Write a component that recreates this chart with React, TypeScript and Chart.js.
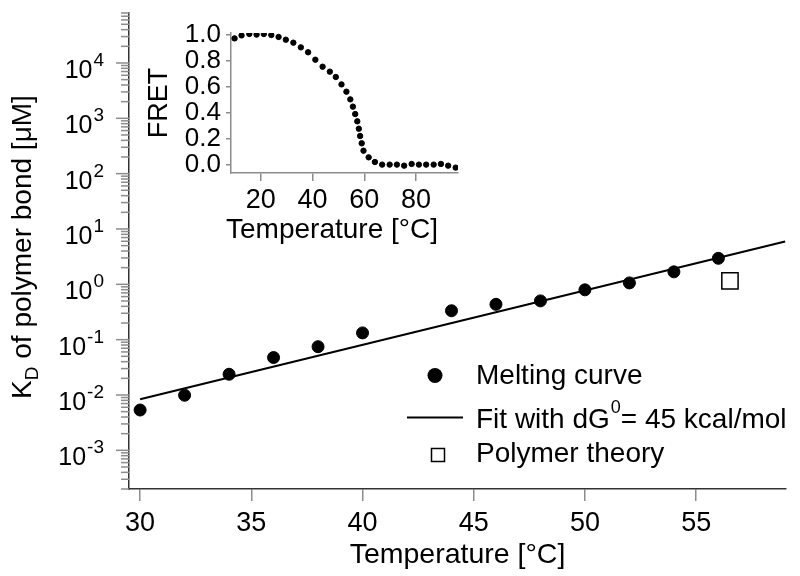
import React, { useEffect, useRef } from "react";
import { Chart, registerables } from "chart.js";

Chart.register(...registerables);

const FONT = "'Liberation Sans', Arial, sans-serif";

// Main chart data
const meltT = [30, 32, 34, 36, 38, 40, 44, 46, 48, 50, 52, 54, 56];
const meltKd = [0.00535, 0.00989, 0.0237, 0.0475, 0.0746, 0.1325, 0.333, 0.435, 0.502, 0.795, 1.06, 1.68, 2.95];
const fitT = [30, 59];
const fitKd = [0.0084, 5.93];
const polyT = [56.52];
const polyKd = [1.15];
const xTicks = [30, 35, 40, 45, 50, 55];

// Inset data
const insetT = [9.9, 12.6, 15.6, 18.4, 21.2, 24.1, 26.9, 29.7, 32.6, 35.5, 38.3, 41.1, 43.9, 46.7, 49.0, 51.2, 53.1, 54.6, 55.6, 56.5, 57.3, 57.9, 58.4, 59.0, 59.7, 61.7, 64.1, 66.9, 69.8, 72.6, 75.4, 78.3, 81.1, 83.9, 86.8, 89.6, 92.4, 95.3];
const insetF = [0.974, 0.997, 1.008, 1.003, 1.008, 1.0, 0.985, 0.964, 0.941, 0.905, 0.867, 0.81, 0.756, 0.718, 0.677, 0.62, 0.564, 0.505, 0.449, 0.392, 0.336, 0.279, 0.223, 0.167, 0.11, 0.059, 0.023, 0.003, 0.003, 0.003, -0.005, 0.008, 0.003, 0.003, 0.003, 0.008, -0.005, -0.02];
const insetXTicks = [20, 40, 60, 80];
const insetYTicks = [0, 0.2, 0.4, 0.6, 0.8, 1.0];

const legendLabels = ["Melting curve", "Fit with dG", "Polymer theory"];
const insetXTitle = "Temperature [\u00b0C]";

const mainDecor = {
  id: "mainDecor",
  afterDraw(chart: any) {
    const { ctx, chartArea, scales } = chart;
    const ys = scales.y;
    ctx.save();
    // y ticks and labels
    ys.ticks.forEach((t: any) => {
      const y = ys.getPixelForValue(t.value);
      const lg = Math.log10(t.value);
      const major = Math.abs(lg - Math.round(lg)) < 1e-6;
      const len = major ? 13 : 8;
      ctx.strokeStyle = "#8c8c8c";
      ctx.lineWidth = 1.5;
      ctx.beginPath();
      ctx.moveTo(chartArea.left - len, y);
      ctx.lineTo(chartArea.left, y);
      ctx.stroke();
      if (major) {
        const base = "10";
        const exp = String(Math.round(lg));
        ctx.fillStyle = "#000";
        ctx.textBaseline = "alphabetic";
        ctx.textAlign = "left";
        ctx.font = `25px ${FONT}`;
        const wb = ctx.measureText(base).width;
        ctx.font = `19px ${FONT}`;
        const we = ctx.measureText(exp).width;
        const right = 104;
        const x0 = right - we - wb - 1;
        ctx.font = `25px ${FONT}`;
        ctx.fillText(base, x0, y + 15);
        ctx.font = `19px ${FONT}`;
        ctx.fillText(exp, x0 + wb + 1, y + 3);
      }
    });

    // y title with subscript
    ctx.save();
    ctx.translate(31, 247);
    ctx.rotate(-Math.PI / 2);
    ctx.fillStyle = "#000";
    ctx.textBaseline = "alphabetic";
    ctx.textAlign = "left";
    ctx.font = `28px ${FONT}`;
    const wK = ctx.measureText("K").width;
    const rest = " of polymer bond [\u03bcM]";
    const wR = ctx.measureText(rest).width;
    ctx.font = `19px ${FONT}`;
    const wD = ctx.measureText("D").width;
    const total = wK + wD + wR;
    let x = -total / 2;
    ctx.font = `28px ${FONT}`;
    ctx.fillText("K", x, 0);
    x += wK;
    ctx.font = `19px ${FONT}`;
    ctx.fillText("D", x, 7);
    x += wD;
    ctx.font = `28px ${FONT}`;
    ctx.fillText(rest, x, 0);
    ctx.restore();

    // legend
    const ds = chart.data.datasets;
    ctx.fillStyle = ds[0].backgroundColor;
    ctx.beginPath();
    ctx.arc(435, 375.5, 7.5, 0, Math.PI * 2);
    ctx.fill();
    ctx.strokeStyle = ds[1].borderColor;
    ctx.lineWidth = 2;
    ctx.beginPath();
    ctx.moveTo(407, 417.5);
    ctx.lineTo(463, 417.5);
    ctx.stroke();
    ctx.fillStyle = "#fff";
    ctx.strokeStyle = ds[2].borderColor;
    ctx.lineWidth = 1.5;
    ctx.fillRect(431.5, 448.5, 13, 13);
    ctx.strokeRect(431.5, 448.5, 13, 13);

    ctx.fillStyle = "#000";
    ctx.font = `28px ${FONT}`;
    ctx.textBaseline = "alphabetic";
    ctx.textAlign = "left";
    ctx.fillText(legendLabels[0], 476, 384);
    ctx.fillText(legendLabels[1], 476, 428);
    const wFit = ctx.measureText(legendLabels[1]).width;
    ctx.font = `18px ${FONT}`;
    ctx.fillText("0", 476 + wFit + 1, 413);
    const w0 = ctx.measureText("0").width;
    ctx.font = `28px ${FONT}`;
    ctx.fillText("= 45 kcal/mol", 476 + wFit + 1 + w0, 428);
    ctx.fillText(legendLabels[2], 476, 462);
    ctx.restore();
  },
};

const insetDecor = {
  id: "insetDecor",
  afterDraw(chart: any) {
    const { ctx } = chart;
    ctx.save();
    ctx.fillStyle = "#000";
    ctx.font = `28px ${FONT}`;
    ctx.textAlign = "center";
    ctx.textBaseline = "middle";
    ctx.fillText(insetXTitle, 192, 230);
    ctx.restore();
  },
};

function MainChart() {
  const ref = useRef<HTMLCanvasElement>(null);
  useEffect(() => {
    const chart = new Chart(ref.current!, {
      type: "scatter",
      data: {
        datasets: [
          {
            label: "Melting curve",
            data: meltT.map((t, i) => ({ x: t, y: meltKd[i] })),
            backgroundColor: "#000",
            borderColor: "#000",
            pointRadius: 6,
            pointHoverRadius: 6,
          },
          {
            label: "Fit",
            data: fitT.map((t, i) => ({ x: t, y: fitKd[i] })),
            showLine: true,
            borderColor: "#000",
            borderWidth: 2,
            pointRadius: 0,
            fill: false,
          },
          {
            label: "Polymer theory",
            data: polyT.map((t, i) => ({ x: t, y: polyKd[i] })),
            pointStyle: "rect",
            pointRadius: 11.5,
            backgroundColor: "#fff",
            borderColor: "#000",
            borderWidth: 1.5,
          },
        ],
      },
      options: {
        responsive: false,
        animation: false,
        events: [],
        layout: { padding: { left: 0, top: 6, right: 14, bottom: 0 } },
        plugins: { legend: { display: false }, tooltip: { enabled: false } },
        scales: {
          x: {
            type: "linear",
            min: 29.5,
            max: 59.04,
            afterBuildTicks: (s: any) => {
              s.ticks = xTicks.map((v) => ({ value: v }));
            },
            afterFit: (s: any) => {
              s.height = 87;
            },
            grid: { drawOnChartArea: false, drawTicks: true, tickLength: 12, color: "#8c8c8c", lineWidth: 1.5 },
            border: { display: true, color: "#333", width: 1.5 },
            ticks: { color: "#000", font: { family: FONT, size: 27 }, padding: 6, maxRotation: 0, autoSkip: false },
            title: { display: true, text: "Temperature [\u00b0C]", color: "#000", font: { family: FONT, size: 28.5 }, padding: { top: 0, bottom: 4 } },
          },
          y: {
            type: "logarithmic",
            min: 2e-4,
            max: 8e4,
            afterBuildTicks: (s: any) => {
              const vals: { value: number }[] = [];
              for (let n = -4; n <= 4; n++) {
                for (let k = 1; k <= 9; k++) {
                  const v = k * Math.pow(10, n);
                  if (v >= 2e-4 * 0.999 && v <= 8e4 * 1.001) vals.push({ value: v });
                }
              }
              s.ticks = vals;
            },
            afterFit: (s: any) => {
              s.width = 129;
            },
            grid: { display: false },
            border: { display: true, color: "#333", width: 1.5 },
            ticks: { display: false },
          },
        },
      },
      plugins: [mainDecor],
    } as any);
    return () => chart.destroy();
  }, []);
  return <canvas ref={ref} width={800} height={576} style={{ position: "absolute", left: 0, top: 0 }} />;
}

function InsetChart() {
  const ref = useRef<HTMLCanvasElement>(null);
  useEffect(() => {
    const chart = new Chart(ref.current!, {
      type: "scatter",
      data: {
        datasets: [
          {
            label: "FRET",
            data: insetT.map((t, i) => ({ x: t, y: insetF[i] })),
            backgroundColor: "#000",
            borderColor: "#000",
            pointRadius: 2.7,
            pointHoverRadius: 2.7,
          },
        ],
      },
      options: {
        responsive: false,
        animation: false,
        events: [],
        layout: { padding: { left: 0, top: 33, right: 12, bottom: 0 } },
        plugins: { legend: { display: false }, tooltip: { enabled: false } },
        scales: {
          x: {
            type: "linear",
            min: 8.52,
            max: 96.2,
            afterBuildTicks: (s: any) => {
              s.ticks = insetXTicks.map((v) => ({ value: v }));
            },
            afterFit: (s: any) => {
              s.height = 77;
            },
            grid: { drawOnChartArea: false, drawTicks: true, tickLength: 8, color: "#8c8c8c", lineWidth: 1.5 },
            border: { display: true, color: "#8c8c8c", width: 1.5 },
            ticks: { color: "#000", font: { family: FONT, size: 27 }, padding: 3, maxRotation: 0, autoSkip: false },
            title: { display: false },
          },
          y: {
            type: "linear",
            min: -0.0615,
            max: 1.0154,
            afterBuildTicks: (s: any) => {
              s.ticks = insetYTicks.map((v) => ({ value: v }));
            },
            afterFit: (s: any) => {
              s.width = 91;
            },
            grid: { drawOnChartArea: false, drawTicks: true, tickLength: 5, color: "#8c8c8c", lineWidth: 1.5 },
            border: { display: true, color: "#8c8c8c", width: 1.5 },
            ticks: {
              color: "#000",
              font: { family: FONT, size: 26, lineHeight: 1 },
              padding: 5,
              autoSkip: false,
              callback: (v: any) => Number(v).toFixed(1),
            },
            title: { display: true, text: "FRET", color: "#000", font: { family: FONT, size: 27 }, padding: { top: 3, bottom: 0 } },
          },
        },
      },
      plugins: [insetDecor],
    } as any);
    return () => chart.destroy();
  }, []);
  return <canvas ref={ref} width={330} height={250} style={{ position: "absolute", left: 140, top: 0 }} />;
}

export default function App() {
  return (
    <div style={{ position: "fixed", left: 0, top: 0, width: 800, height: 576, background: "#fff" }}>
      <MainChart />
      <InsetChart />
    </div>
  );
}
